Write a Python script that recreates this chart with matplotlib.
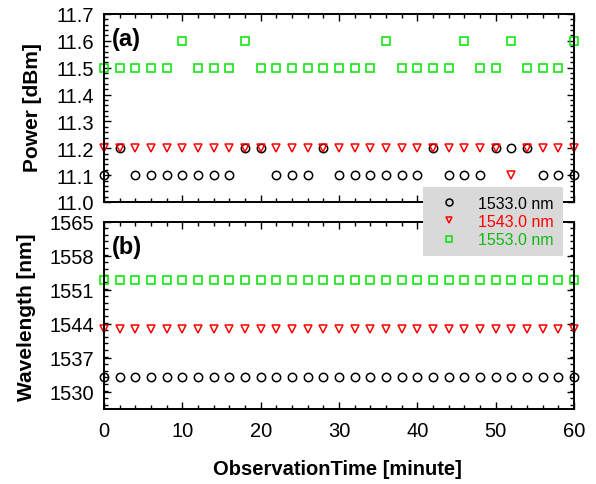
import matplotlib
matplotlib.use("Agg")
import matplotlib.pyplot as plt
from matplotlib.ticker import MultipleLocator, FormatStrFormatter
from matplotlib.lines import Line2D

plt.rcParams['font.family'] = ['Liberation Sans', 'DejaVu Sans']

time_min = list(range(0, 61, 2))

power_1533 = [11.1, 11.2, 11.1, 11.1, 11.1, 11.1, 11.1, 11.1, 11.1, 11.2,
              11.2, 11.1, 11.1, 11.1, 11.2, 11.1, 11.1, 11.1, 11.1, 11.1,
              11.1, 11.2, 11.1, 11.1, 11.1, 11.2, 11.2, 11.2, 11.1, 11.1, 11.1]
power_1543 = [11.2] * 26 + [11.1] + [11.2] * 4
power_1553 = [11.5, 11.5, 11.5, 11.5, 11.5, 11.6, 11.5, 11.5, 11.5, 11.6,
              11.5, 11.5, 11.5, 11.5, 11.5, 11.5, 11.5, 11.5, 11.6, 11.5,
              11.5, 11.5, 11.5, 11.6, 11.5, 11.5, 11.6, 11.5, 11.5, 11.5, 11.6]

wl_1533 = [1533.0] * 31
wl_1543 = [1543.0] * 31
wl_1553 = [1553.0] * 31

labels = ['1533.0 nm', '1543.0 nm', '1553.0 nm']
colors = ['#000000', '#ff0000', '#00e600']
text_colors = ['#000000', '#ff0000', '#12b812']
markers = ['o', 'v', 's']

fig = plt.figure(figsize=(5.96, 4.85), dpi=100)
ax1 = fig.add_axes([104/596, 1-203/485, 470/596, 188/485])
ax2 = fig.add_axes([104/596, 1-410/485, 470/596, 187/485])

def style(ax):
    for s in ax.spines.values():
        s.set_linewidth(1.4)
    ax.tick_params(which='both', direction='in', top=True, right=True, width=1.0)
    ax.tick_params(which='major', length=5, labelsize=14.5)
    ax.tick_params(which='minor', length=3)
    ax.tick_params(axis='y', pad=7)
    ax.xaxis.set_major_locator(MultipleLocator(10))
    ax.xaxis.set_minor_locator(MultipleLocator(2))
    ax.set_xlim(0, 60)

for vals, c, m in zip([power_1533, power_1543, power_1553], colors, markers):
    ax1.plot(time_min, vals, linestyle='none', marker=m, markersize=6 if m != 's' else 5.5,
             markerfacecolor='none', markeredgecolor=c, markeredgewidth=1.1, clip_on=False)
for vals, c, m in zip([wl_1533, wl_1543, wl_1553], colors, markers):
    ax2.plot(time_min, vals, linestyle='none', marker=m, markersize=6 if m != 's' else 5.5,
             markerfacecolor='none', markeredgecolor=c, markeredgewidth=1.1, clip_on=False)

style(ax1)
style(ax2)
ax1.set_ylim(11.0, 11.7)
ax1.yaxis.set_major_locator(MultipleLocator(0.1))
ax1.yaxis.set_minor_locator(MultipleLocator(0.02))
ax1.yaxis.set_major_formatter(FormatStrFormatter('%.1f'))
ax1.tick_params(axis='x', labelbottom=False)

ax2.set_ylim(1526.5, 1565)
ax2.set_yticks([1530, 1537, 1544, 1551, 1558, 1565])
ax2.yaxis.set_minor_locator(MultipleLocator(1.4))
ax2.tick_params(axis='x', pad=9)

ax1.text(0.017, 0.87, '(a)', transform=ax1.transAxes, fontsize=17, fontweight='bold', va='center')
ax2.text(0.017, 0.87, '(b)', transform=ax2.transAxes, fontsize=17, fontweight='bold', va='center')

fig.text(32/596, 1-108/485, 'Power [dBm]', rotation=90, fontsize=15, fontweight='bold',
         ha='center', va='center')
fig.text(27/596, 1-317/485, 'Wavelength [nm]', rotation=90, fontsize=15, fontweight='bold',
         ha='center', va='center')
fig.text(337/596, 1-470/485, 'ObservationTime [minute]', fontsize=14.5, fontweight='bold',
         ha='center', va='center')

handles = [Line2D([], [], linestyle='none', marker=m, markersize=5 if m != 's' else 4.5,
                  markerfacecolor='none', markeredgecolor=c, markeredgewidth=1.1)
           for c, m in zip(colors, markers)]
leg = fig.legend(handles, labels, loc='upper left', bbox_to_anchor=(423/596, 1-188/485),
                 frameon=True, fancybox=False, fontsize=11.5, handlelength=2.2,
                 handletextpad=0.7, borderpad=0.55, labelspacing=0.2, borderaxespad=0)
leg.get_frame().set_facecolor('#d9d9d9')
leg.get_frame().set_edgecolor('none')
leg.get_frame().set_alpha(1)
for t, tc in zip(leg.get_texts(), text_colors):
    t.set_color(tc)

fig.savefig('out.png', dpi=100)
